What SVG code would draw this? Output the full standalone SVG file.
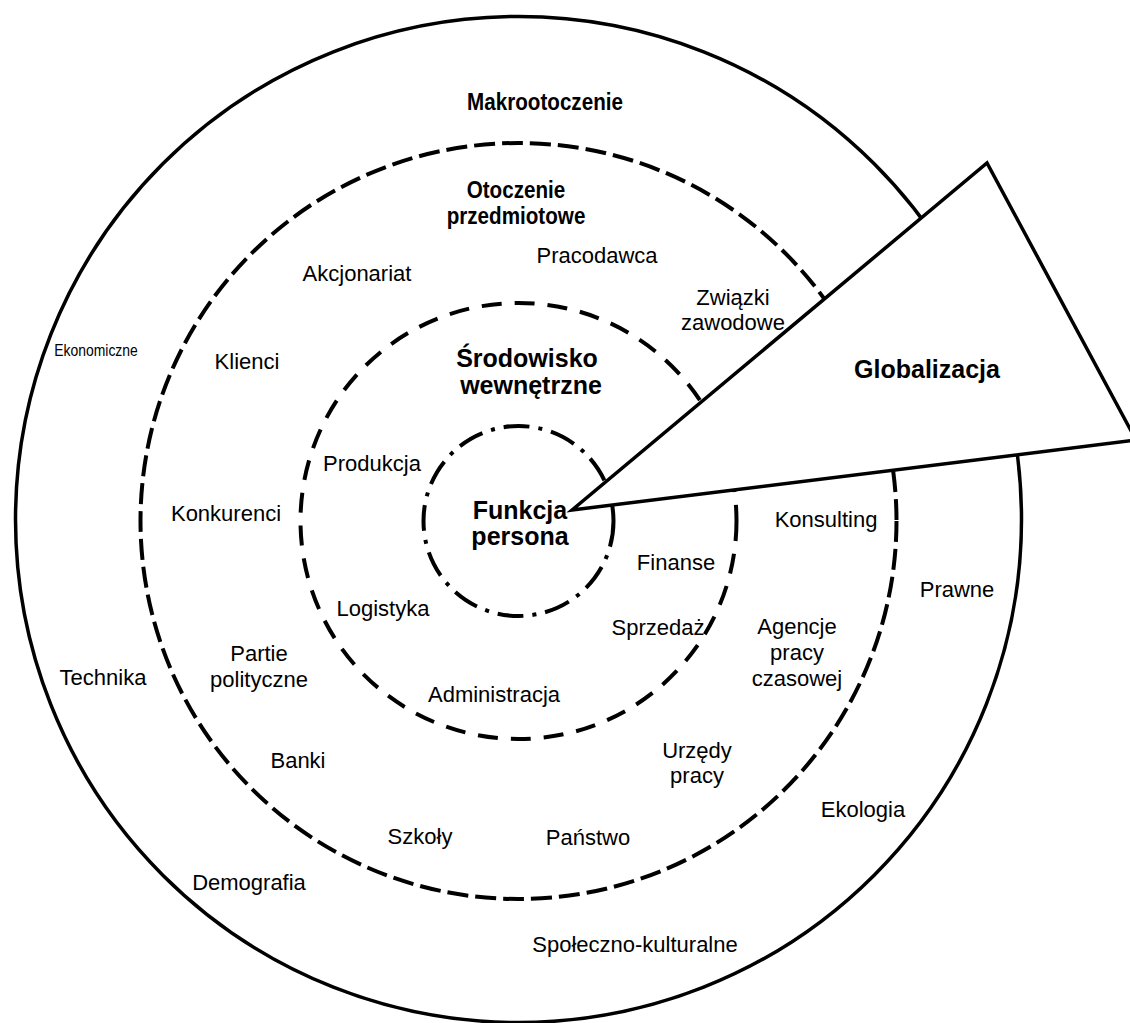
<svg xmlns="http://www.w3.org/2000/svg" width="1130" height="1023" viewBox="0 0 1130 1023">
<style>
.ring{fill:none;stroke:#000;}
.t{font-family:"Liberation Sans",Arial,sans-serif;font-size:22px;fill:#000;text-anchor:middle;}
.b{font-weight:bold;font-size:25px;}
.n{font-weight:bold;font-size:24px;}
</style>
<rect width="1130" height="1023" fill="#fff"/>
<g id="rings">
<circle id="makro" class="ring" cx="518.5" cy="519.5" r="503" stroke-width="3.5"/>
<circle id="otoczenie" class="ring" cx="518.5" cy="521" r="378" stroke-width="4" stroke-dasharray="21 7"/>
<circle id="srodowisko" class="ring" cx="518.5" cy="521" r="218" stroke-width="4" stroke-dasharray="20 13"/>
<circle id="funkcja" class="ring" cx="518.5" cy="521" r="95" stroke-width="4" stroke-dasharray="26 9 4 9"/>
</g>
<g id="globalizacja">
<polygon points="572,510 987,163 1136,440" fill="#fff" stroke="#000" stroke-width="3.5" stroke-linejoin="miter"/>
<text class="t b" x="927" y="378">Globalizacja</text>
</g>
<g id="labels">
<text class="t n" transform="translate(545,110) scale(0.86,1)" x="0" y="0">Makrootoczenie</text>
<text class="t n" transform="translate(516,198) scale(0.86,1)" x="0" y="0">Otoczenie</text>
<text class="t n" transform="translate(516,224) scale(0.86,1)" x="0" y="0">przedmiotowe</text>
<text class="t b" x="527" y="367">Środowisko</text>
<text class="t b" x="531" y="394">wewnętrzne</text>
<text class="t b" x="520" y="519">Funkcja</text>
<text class="t b" x="520" y="545">persona</text>
<text class="t" x="597" y="263">Pracodawca</text>
<text class="t" x="357" y="281">Akcjonariat</text>
<text class="t" x="733" y="305">Związki</text>
<text class="t" x="733" y="330">zawodowe</text>
<text class="t" transform="translate(96,356) scale(0.82,1)" style="font-size:17px" x="0" y="0">Ekonomiczne</text>
<text class="t" x="247" y="369">Klienci</text>
<text class="t" x="372" y="471">Produkcja</text>
<text class="t" x="226" y="521">Konkurenci</text>
<text class="t" x="826" y="527">Konsulting</text>
<text class="t" x="676" y="570">Finanse</text>
<text class="t" x="957" y="597">Prawne</text>
<text class="t" x="383" y="616">Logistyka</text>
<text class="t" x="658" y="635">Sprzedaż</text>
<text class="t" x="797" y="634">Agencje</text>
<text class="t" x="797" y="660">pracy</text>
<text class="t" x="797" y="686">czasowej</text>
<text class="t" x="259" y="661">Partie</text>
<text class="t" x="259" y="687">polityczne</text>
<text class="t" x="103" y="685">Technika</text>
<text class="t" x="494" y="702">Administracja</text>
<text class="t" x="697" y="758">Urzędy</text>
<text class="t" x="697" y="783">pracy</text>
<text class="t" x="298" y="768">Banki</text>
<text class="t" x="863" y="817">Ekologia</text>
<text class="t" x="420" y="844">Szkoły</text>
<text class="t" x="588" y="845">Państwo</text>
<text class="t" x="249" y="890">Demografia</text>
<text class="t" x="635" y="952">Społeczno-kulturalne</text>
</g>
</svg>
